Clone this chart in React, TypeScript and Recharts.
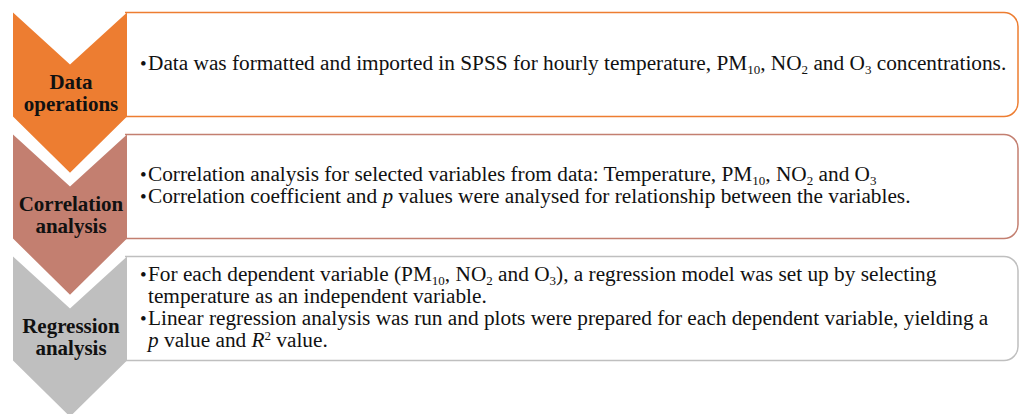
import React from 'react';
import { BarChart, Bar, XAxis, YAxis } from 'recharts';

const STEPS = ['Data operations', 'Correlation analysis', 'Regression analysis'];
const STEP_LABELS = [['Data', 'operations'], ['Correlation', 'analysis'], ['Regression', 'analysis']];
const STEP_SPAN = [100, 100, 100];
const STEP_COLORS = ['#ED7D31', '#C37F70', '#BFBFBF'];
// _{..} subscript, ^{..} superscript, *..* italic, leading • = bullet
const STEP_TEXT = [
  ['•Data was formatted and imported in SPSS for hourly temperature, PM_{10}, NO_{2} and O_{3} concentrations.'],
  [
    '•Correlation analysis for selected variables from data: Temperature, PM_{10}, NO_{2} and O_{3}',
    '•Correlation coefficient and *p* values were analysed for relationship between the variables.',
  ],
  [
    '•For each dependent variable (PM_{10}, NO_{2} and O_{3}), a regression model was set up by selecting',
    'temperature as an independent variable.',
    '•Linear regression analysis was run and plots were prepared for each dependent variable, yielding a',
    '*p* value and *R*^{2} value.',
  ],
];

const FONT = "'Liberation Serif', 'Times New Roman', serif";

function renderRich(line: string) {
  const parts = line.split(/(_\{[^}]*\}|\^\{[^}]*\}|\*[^*]*\*)/).filter((p) => p !== '');
  const out: React.ReactNode[] = [];
  let shift = 0;
  parts.forEach((p, i) => {
    let target = 0;
    let text = p;
    let size: number | undefined;
    let italic = false;
    if (p.startsWith('_{')) { target = 4; text = p.slice(2, -1); size = 13; }
    else if (p.startsWith('^{')) { target = -7; text = p.slice(2, -1); size = 13; }
    else if (p.startsWith('*')) { italic = true; text = p.slice(1, -1); }
    const dy = target - shift;
    shift = target;
    out.push(
      <tspan key={i} dy={dy} fontSize={size} fontStyle={italic ? 'italic' : undefined}>{text}</tspan>
    );
  });
  return out;
}

function Step(props: any) {
  const { x, y, width, height, index, payload } = props;
  const color = STEP_COLORS[index];
  const cw = 114;
  const cx = x + cw / 2;
  const right = x + width;
  const r = 14;
  const bx = x + cw - 2;
  const chevron = `M${x},${y} L${cx},${y + height * 0.5} L${x + cw},${y} L${x + cw},${y + height} L${cx},${y + height * 1.54} L${x},${y + height} Z`;
  const box = `M${bx},${y} H${right - r} A${r},${r} 0 0 1 ${right},${y + r} V${y + height - r} A${r},${r} 0 0 1 ${right - r},${y + height} H${bx}`;
  const lines: string[] = payload.lines;
  const lh = 22;
  const first = y + height / 2 - ((lines.length - 1) * lh) / 2 + 5;
  const tx = x + 135;
  const textStyle = { fontFamily: FONT };
  return (
    <g>
      <path d={box} fill="#fff" stroke={color} strokeWidth={1.5} />
      <path d={chevron} fill={color} />
      {payload.labels.map((l: string, i: number) => (
        <text key={i} x={cx + 1} y={y + 76 + i * 22} textAnchor="middle" style={textStyle} fontWeight="bold" fontSize={21} fill="#111">
          {l}
        </text>
      ))}
      {lines.map((ln, i) => {
        const bullet = ln.startsWith('•');
        const body = bullet ? ln.slice(1) : ln;
        const by = first + i * lh;
        return (
          <g key={i}>
            {bullet && (
              <text x={tx - 8} y={by} style={textStyle} fontSize={19} fill="#111">•</text>
            )}
            <text x={tx} y={by} style={textStyle} fontSize={21.3} fill="#111">{renderRich(body)}</text>
          </g>
        );
      })}
    </g>
  );
}

const data = STEPS.map((name, i) => ({
  name,
  span: STEP_SPAN[i],
  labels: STEP_LABELS[i],
  lines: STEP_TEXT[i],
}));

export default function App() {
  return (
    <div style={{ position: 'absolute', left: 0, top: 0, background: '#fff' }}>
      <BarChart
        width={1019}
        height={414}
        data={data}
        layout="vertical"
        margin={{ top: 3.5, right: 1, bottom: 44.5, left: 13 }}
        barSize={104}
      >
        <XAxis type="number" domain={[0, 100]} hide />
        <YAxis type="category" dataKey="name" hide />
        <Bar dataKey="span" shape={<Step />} isAnimationActive={false} />
      </BarChart>
    </div>
  );
}
